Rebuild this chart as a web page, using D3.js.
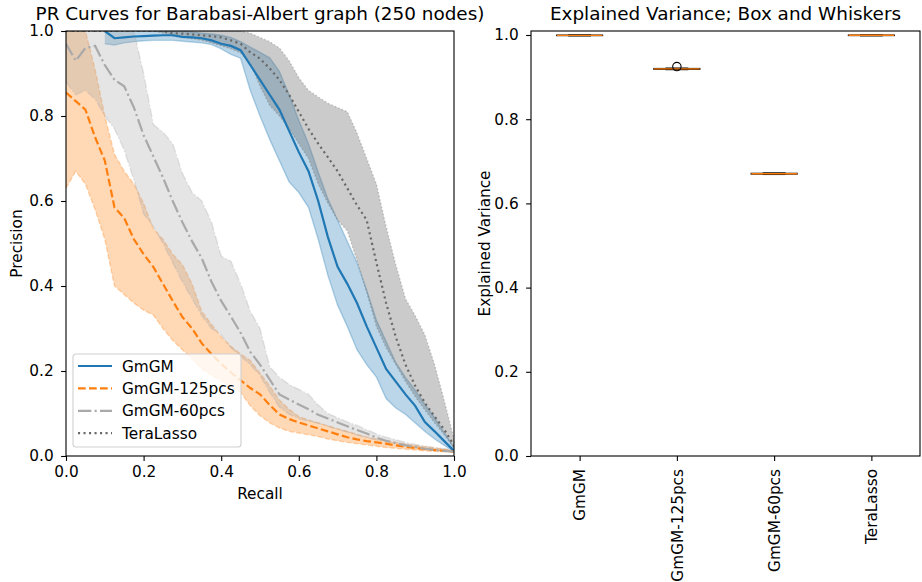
<!DOCTYPE html>
<html lang="en">
<head>
  <meta charset="UTF-8">
  <script src="https://cdn.jsdelivr.net/npm/d3@7/dist/d3.min.js"></script>
  <title>PR Curves and Explained Variance</title>
  <style>
    body { margin: 0; background: #fff; }
    svg { font-family: "DejaVu Sans", sans-serif; }
  </style>
</head>
<body>
<svg id="fig" width="922" height="582"></svg>
<script>
// ---- data ----
const recall = [0, 0.025, 0.05, 0.075, 0.1, 0.125, 0.15, 0.175, 0.2, 0.225, 0.25, 0.275, 0.3, 0.325, 0.35, 0.375, 0.4, 0.425, 0.45, 0.475,
  0.5, 0.525, 0.55, 0.575, 0.6, 0.625, 0.65, 0.675, 0.7, 0.725, 0.75, 0.775, 0.8, 0.825, 0.85, 0.875, 0.9, 0.925, 0.95, 0.975, 1.0];

const gmgmMean = [null, null, null, null, 1.0, 0.983, 0.985, 0.987, 0.988, 0.989, 0.99, 0.99, 0.986, 0.985, 0.983, 0.978, 0.97, 0.965, 0.955, 0.92,
  0.885, 0.85, 0.815, 0.765, 0.715, 0.67, 0.6, 0.515, 0.445, 0.405, 0.36, 0.305, 0.255, 0.205, 0.175, 0.145, 0.118, 0.08, 0.058, 0.035, 0.012];
const gmgmLo = [null, null, null, null, 0.97, 0.967, 0.972, 0.975, 0.977, 0.978, 0.978, 0.978, 0.976, 0.974, 0.972, 0.968, 0.958, 0.945, 0.936, 0.86,
  0.8, 0.745, 0.695, 0.645, 0.62, 0.585, 0.51, 0.425, 0.355, 0.305, 0.25, 0.215, 0.186, 0.135, 0.113, 0.098, 0.078, 0.058, 0.04, 0.025, 0.01];
const gmgmHi = [null, null, null, null, 1.0, 1.0, 1.0, 1.0, 1.0, 1.0, 1.0, 1.0, 1.0, 0.998, 0.995, 0.993, 0.99, 0.985, 0.975, 0.962,
  0.95, 0.937, 0.905, 0.85, 0.79, 0.735, 0.668, 0.605, 0.555, 0.505, 0.455, 0.39, 0.32, 0.27, 0.22, 0.185, 0.155, 0.122, 0.09, 0.055, 0.02];

const pcs125Mean = [0.855, 0.835, 0.815, 0.75, 0.695, 0.585, 0.56, 0.51, 0.475, 0.445, 0.405, 0.365, 0.327, 0.3, 0.265, 0.24, 0.217, 0.197, 0.178, 0.16,
  0.145, 0.12, 0.098, 0.087, 0.079, 0.072, 0.065, 0.058, 0.051, 0.044, 0.039, 0.035, 0.032, 0.029, 0.025, 0.022, 0.019, 0.016, 0.014, 0.012, 0.01];
const pcs125Lo = [0.63, 0.67, 0.64, 0.58, 0.51, 0.4, 0.38, 0.36, 0.343, 0.332, 0.3, 0.272, 0.25, 0.228, 0.205, 0.19, 0.177, 0.163, 0.15, 0.118,
  0.095, 0.078, 0.066, 0.058, 0.054, 0.05, 0.046, 0.04, 0.036, 0.032, 0.029, 0.026, 0.023, 0.02, 0.018, 0.016, 0.014, 0.012, 0.011, 0.01, 0.009];
const pcs125Hi = [1.0, 1.0, 1.0, 0.91, 0.8, 0.71, 0.67, 0.64, 0.595, 0.535, 0.51, 0.475, 0.45, 0.405, 0.34, 0.31, 0.28, 0.258, 0.24, 0.225,
  0.195, 0.165, 0.132, 0.11, 0.093, 0.085, 0.078, 0.071, 0.064, 0.058, 0.051, 0.045, 0.04, 0.036, 0.032, 0.028, 0.025, 0.022, 0.019, 0.016, 0.014];

const pcs60Mean = [0.97, 0.93, 0.96, 0.965, 0.92, 0.885, 0.87, 0.82, 0.755, 0.705, 0.655, 0.6, 0.55, 0.505, 0.465, 0.41, 0.365, 0.328, 0.29, 0.245,
  0.215, 0.18, 0.145, 0.133, 0.121, 0.11, 0.097, 0.088, 0.079, 0.07, 0.061, 0.053, 0.043, 0.036, 0.03, 0.025, 0.021, 0.017, 0.014, 0.012, 0.01];
const pcs60Lo = [0.88, 0.85, 0.86, 0.84, 0.8, 0.77, 0.72, 0.65, 0.57, 0.54, 0.5, 0.455, 0.41, 0.37, 0.33, 0.3, 0.285, 0.255, 0.235, 0.215,
  0.19, 0.15, 0.115, 0.098, 0.088, 0.082, 0.077, 0.07, 0.063, 0.056, 0.049, 0.043, 0.038, 0.034, 0.03, 0.025, 0.021, 0.017, 0.014, 0.012, 0.01];
const pcs60Hi = [1.0, 1.0, 1.0, 1.0, 1.0, 1.0, 1.0, 1.0, 0.9, 0.78, 0.762, 0.735, 0.665, 0.62, 0.6, 0.55, 0.47, 0.458, 0.405, 0.34,
  0.3, 0.21, 0.185, 0.168, 0.157, 0.145, 0.12, 0.1, 0.09, 0.08, 0.072, 0.062, 0.052, 0.044, 0.038, 0.032, 0.027, 0.023, 0.02, 0.017, 0.014];

const teraMean = [1.0, 1.0, 1.0, 1.0, 1.0, 1.0, 1.0, 1.0, 1.0, 1.0, 1.0, 0.995, 0.994, 0.992, 0.99, 0.988, 0.985, 0.978, 0.97, 0.95,
  0.935, 0.912, 0.885, 0.85, 0.81, 0.77, 0.735, 0.703, 0.67, 0.63, 0.59, 0.555, 0.455, 0.36, 0.28, 0.215, 0.165, 0.125, 0.093, 0.062, 0.025];
const teraLo = [1.0, 1.0, 1.0, 1.0, 1.0, 1.0, 1.0, 1.0, 1.0, 1.0, 0.995, 0.988, 0.985, 0.982, 0.978, 0.972, 0.965, 0.958, 0.948, 0.925,
  0.87, 0.825, 0.8, 0.77, 0.735, 0.7, 0.64, 0.595, 0.555, 0.53, 0.46, 0.385, 0.305, 0.255, 0.215, 0.175, 0.14, 0.108, 0.078, 0.05, 0.018];
const teraHi = [1.0, 1.0, 1.0, 1.0, 1.0, 1.0, 1.0, 1.0, 1.0, 1.0, 1.0, 1.0, 1.0, 1.0, 1.0, 1.0, 1.0, 1.0, 1.0, 0.995,
  0.985, 0.975, 0.96, 0.93, 0.89, 0.86, 0.845, 0.83, 0.82, 0.81, 0.76, 0.7, 0.64, 0.54, 0.45, 0.37, 0.33, 0.285, 0.215, 0.13, 0.04];

const seriesNames = ["GmGM", "GmGM-125pcs", "GmGM-60pcs", "TeraLasso"];
const prTicks = [0, 0.2, 0.4, 0.6, 0.8, 1.0];

// box plot summaries (explained variance)
const boxLow = [0.9983, 0.9180, 0.6690, 0.9984];
const boxQ1 = [0.9988, 0.9188, 0.6698, 0.9989];
const boxMedian = [0.9992, 0.9195, 0.6705, 0.9993];
const boxQ3 = [0.9995, 0.9202, 0.6712, 0.9996];
const boxHigh = [0.9998, 0.9210, 0.6720, 0.9999];
const boxFliers = [[], [0.925], [], []];
const evTicks = [0, 0.2, 0.4, 0.6, 0.8, 1.0];

// ---- styles ----
const styles = [
  {color: "#1f77b4", dash: null, edgeDash: null, alpha: 0.3},
  {color: "#ff7f0e", dash: "7.7,3.3", edgeDash: "5.1,2.2", alpha: 0.3},
  {color: "darkgray", dash: "13.3,3.3,2.1,3.3", edgeDash: "8.9,2.2,1.4,2.2", alpha: 0.3},
  {color: "dimgray", dash: "2.1,3.4", edgeDash: "1.4,2.3", alpha: 0.35}
];
const series = [
  {mean: gmgmMean, lo: gmgmLo, hi: gmgmHi},
  {mean: pcs125Mean, lo: pcs125Lo, hi: pcs125Hi},
  {mean: pcs60Mean, lo: pcs60Lo, hi: pcs60Hi},
  {mean: teraMean, lo: teraLo, hi: teraHi}
].map((s, i) => Object.assign(s, styles[i], {name: seriesNames[i]}));

const svg = d3.select("#fig");
const FS = 15.3;   // tick / label / legend text
const TS = 18.4;   // titles

/* ===== LEFT: PR curves ===== */
const L = {left: 66, right: 454, top: 31, bottom: 456};
const x = d3.scaleLinear().domain([0, 1]).range([L.left, L.right]);
const y = d3.scaleLinear().domain([0, 1]).range([L.bottom, L.top]);

svg.append("clipPath").attr("id", "clipL")
  .append("rect").attr("x", L.left).attr("y", L.top)
  .attr("width", L.right - L.left).attr("height", L.bottom - L.top);

const plotL = svg.append("g").attr("clip-path", "url(#clipL)");
const idx = d3.range(recall.length);

// fills first (matplotlib collections sit below lines)
series.forEach(s => {
  const ok = i => s.lo[i] != null && s.hi[i] != null;
  plotL.append("path")
    .attr("d", d3.area().defined(ok).x(i => x(recall[i])).y0(i => y(s.lo[i])).y1(i => y(s.hi[i]))(idx))
    .attr("fill", s.color).attr("fill-opacity", s.alpha).attr("stroke", "none");
  [s.lo, s.hi].forEach(edge => {
    plotL.append("path")
      .attr("d", d3.line().defined(i => edge[i] != null).x(i => x(recall[i])).y(i => y(edge[i]))(idx))
      .attr("fill", "none").attr("stroke", s.color).attr("stroke-opacity", s.alpha)
      .attr("stroke-width", 1.4).attr("stroke-dasharray", s.edgeDash);
  });
});
series.forEach(s => {
  plotL.append("path")
    .attr("d", d3.line().defined(i => s.mean[i] != null).x(i => x(recall[i])).y(i => y(s.mean[i]))(idx))
    .attr("fill", "none").attr("stroke", s.color).attr("stroke-width", 2.2)
    .attr("stroke-dasharray", s.dash);
});

// axes
function styleAxis(g) {
  g.select(".domain").remove();
  g.selectAll("line").attr("stroke", "#000").attr("stroke-width", 1.1);
  g.selectAll("text").attr("font-size", FS).attr("fill", "#000").attr("font-family", "DejaVu Sans");
}
svg.append("g").attr("transform", `translate(0,${L.bottom})`)
  .call(d3.axisBottom(x).tickValues(prTicks).tickFormat(d3.format(".1f")).tickSize(4.9).tickPadding(5.5))
  .call(styleAxis);
svg.append("g").attr("transform", `translate(${L.left},0)`)
  .call(d3.axisLeft(y).tickValues(prTicks).tickFormat(d3.format(".1f")).tickSize(4.9).tickPadding(7.5))
  .call(styleAxis);

svg.append("rect").attr("x", L.left).attr("y", L.top)
  .attr("width", L.right - L.left).attr("height", L.bottom - L.top)
  .attr("fill", "none").attr("stroke", "#000").attr("stroke-width", 1.1);

svg.append("text").attr("x", (L.left + L.right) / 2).attr("y", 19.5)
  .attr("text-anchor", "middle").attr("font-size", TS)
  .text("PR Curves for Barabasi-Albert graph (250 nodes)");
svg.append("text").attr("x", (L.left + L.right) / 2).attr("y", 499)
  .attr("text-anchor", "middle").attr("font-size", FS).text("Recall");
svg.append("text").attr("transform", `translate(22,${(L.top + L.bottom) / 2}) rotate(-90)`)
  .attr("text-anchor", "middle").attr("font-size", FS).text("Precision");

// legend
const leg = svg.append("g").attr("transform", "translate(73,354)");
leg.append("rect").attr("width", 168).attr("height", 93).attr("rx", 3)
  .attr("fill", "#fff").attr("fill-opacity", 0.8).attr("stroke", "#d0d0d0").attr("stroke-width", 1.1);
series.forEach((s, i) => {
  const yy = 12 + i * 22.4;
  leg.append("line").attr("x1", 5).attr("x2", 39).attr("y1", yy).attr("y2", yy)
    .attr("stroke", s.color).attr("stroke-width", 2.2).attr("stroke-dasharray", s.dash);
  leg.append("text").attr("x", 49).attr("y", yy + 5.5).attr("font-size", FS).text(s.name);
});

/* ===== RIGHT: box plots ===== */
const R = {left: 531, right: 920, top: 31, bottom: 456};
const xb = d3.scaleLinear().domain([0.5, 4.5]).range([R.left, R.right]);
const yb = d3.scaleLinear().domain([0, 1.0095]).range([R.bottom, R.top]);
const positions = d3.range(1, seriesNames.length + 1);
const bw = 0.47, cw = bw / 2;

const boxes = svg.append("g");
positions.forEach((p, i) => {
  const g = boxes.append("g");
  const x0 = xb(p - bw / 2), x1 = xb(p + bw / 2);
  // whiskers
  g.append("line").attr("x1", xb(p)).attr("x2", xb(p)).attr("y1", yb(boxLow[i])).attr("y2", yb(boxQ1[i]));
  g.append("line").attr("x1", xb(p)).attr("x2", xb(p)).attr("y1", yb(boxQ3[i])).attr("y2", yb(boxHigh[i]));
  // caps
  [boxLow[i], boxHigh[i]].forEach(v => {
    g.append("line").attr("x1", xb(p - cw / 2)).attr("x2", xb(p + cw / 2)).attr("y1", yb(v)).attr("y2", yb(v));
  });
  // box
  g.append("rect").attr("x", x0).attr("width", x1 - x0)
    .attr("y", yb(boxQ3[i])).attr("height", Math.max(0.1, yb(boxQ1[i]) - yb(boxQ3[i])))
    .attr("fill", "none");
  g.selectAll("line, rect").attr("stroke", "#000").attr("stroke-width", 1.4);
  // median
  g.append("line").attr("x1", x0).attr("x2", x1).attr("y1", yb(boxMedian[i])).attr("y2", yb(boxMedian[i]))
    .attr("stroke", "#ff7f0e").attr("stroke-width", 1.4);
  // fliers
  boxFliers[i].forEach(v => {
    g.append("circle").attr("cx", xb(p)).attr("cy", yb(v)).attr("r", 4.2)
      .attr("fill", "none").attr("stroke", "#000").attr("stroke-width", 1.1);
  });
});

svg.append("g").attr("transform", `translate(0,${R.bottom})`)
  .call(d3.axisBottom(xb).tickValues(positions).tickFormat(d => seriesNames[d - 1]).tickSize(4.9).tickPadding(0))
  .call(styleAxis)
  .selectAll("text")
  .attr("y", null).attr("dy", null)
  .attr("transform", "translate(0,13) rotate(-90)")
  .attr("text-anchor", "end").attr("dy", "0.35em");
svg.append("g").attr("transform", `translate(${R.left},0)`)
  .call(d3.axisLeft(yb).tickValues(evTicks).tickFormat(d3.format(".1f")).tickSize(4.9).tickPadding(7.5))
  .call(styleAxis);

svg.append("rect").attr("x", R.left).attr("y", R.top)
  .attr("width", R.right - R.left).attr("height", R.bottom - R.top)
  .attr("fill", "none").attr("stroke", "#000").attr("stroke-width", 1.1);

svg.append("text").attr("x", (R.left + R.right) / 2).attr("y", 19.5)
  .attr("text-anchor", "middle").attr("font-size", TS)
  .text("Explained Variance; Box and Whiskers");
svg.append("text").attr("transform", `translate(490,${(R.top + R.bottom) / 2}) rotate(-90)`)
  .attr("text-anchor", "middle").attr("font-size", FS).text("Explained Variance");
</script>
</body>
</html>
